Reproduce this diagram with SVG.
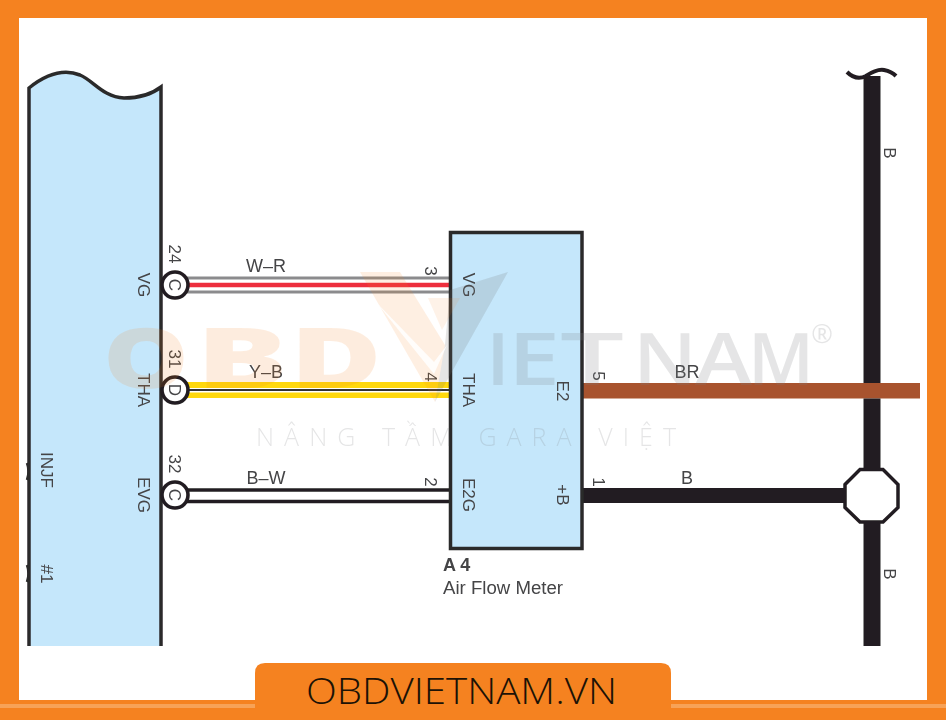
<svg xmlns="http://www.w3.org/2000/svg" width="946" height="720" viewBox="0 0 946 720">
<style>
.box{fill:#c5e7fb;stroke:#2b2a2b;stroke-width:3.5}
.t{font-family:"Liberation Sans",Arial,sans-serif;font-size:17px;fill:#444446}
.h{font-size:18px}
.m{text-anchor:middle}
.conn{fill:#fff;stroke:#231f20;stroke-width:3.6}
.ctext{font-family:"Liberation Sans",Arial,sans-serif;font-size:17px;fill:#444446;text-anchor:middle}
.wm{font-family:"Open Sans","Liberation Sans",sans-serif}
.ob{font-size:84px;font-weight:800;fill:#f58220;opacity:.14}
.gr{font-size:72px;font-weight:600;fill:#808285;opacity:.2}
</style>
<defs><filter id="soft" x="-2%" y="-2%" width="104%" height="104%"><feGaussianBlur stdDeviation="0.6"/></filter></defs>
<rect width="946" height="720" fill="#f58220"/>
<rect x="19" y="18" width="908" height="682" fill="#fff"/>
<rect x="0" y="704" width="946" height="4" fill="#f7a257"/>
<g filter="url(#soft)">
<g id="ecu">
<path d="M29 88C44 76 62 68 80 75C94 81 103 97 124 98C140 98 152 94 161 87V646H29Z" fill="#c5e7fb"/>
<path d="M29 646V88C44 76 62 68 80 75C94 81 103 97 124 98C140 98 152 94 161 87V646" fill="none" stroke="#2b2a2b" stroke-width="3.5"/>
<path d="M27 463Q30 471 27 480M27 565Q30 573 27 582" fill="none" stroke="#2b2a2b" stroke-width="2.500"/>
<text class="t m" transform="translate(138 285) rotate(90)">VG</text>
<text class="t m" transform="translate(138 390) rotate(90)">THA</text>
<text class="t m" transform="translate(138 495) rotate(90)">EVG</text>
<text class="t m" transform="translate(41 470) rotate(90)">INJF</text>
<text class="t m" transform="translate(41 574) rotate(90)">#1</text>
</g>
<g id="connectors">
<line x1="175" y1="278" x2="450" y2="278" stroke="#8b8b8d" stroke-width="3"/>
<line x1="175" y1="292" x2="450" y2="292" stroke="#8b8b8d" stroke-width="3"/>
<line x1="175" y1="285" x2="450" y2="285" stroke="#ed2f3c" stroke-width="4.500"/>
<rect x="175" y="382" width="275" height="16" fill="#ffd808"/>
<rect x="175" y="388" width="275" height="4.500" fill="#fff"/>
<line x1="175" y1="390" x2="450" y2="390" stroke="#333" stroke-width="2"/>
<line x1="175" y1="490" x2="450" y2="490" stroke="#231f20" stroke-width="3.5"/>
<line x1="175" y1="501.500" x2="450" y2="501.500" stroke="#231f20" stroke-width="3.5"/>
<rect x="583" y="383" width="337" height="15.500" fill="#a8532f"/>
<rect x="583" y="488" width="264" height="15" fill="#231f20"/>
<path d="M863.500 76H880.500V383H863.500ZM863.500 398.500H880.500V470H863.500ZM863.500 522H880.500V646H863.500Z" fill="#231f20"/>
<path d="M847 72C853 78 860 79 866 76C872 72 878 69 884 70C889 71 893 73 896 76" fill="none" stroke="#231f20" stroke-width="4"/>
<text class="t h m" x="266" y="272">W–R</text>
<text class="t h m" x="266" y="378">Y–B</text>
<text class="t h m" x="266" y="484">B–W</text>
<text class="t h m" x="687" y="378">BR</text>
<text class="t h m" x="687" y="484">B</text>
<text class="t m" transform="translate(884 153) rotate(90)">B</text>
<text class="t m" transform="translate(884 574) rotate(90)">B</text>
</g>
<g id="conn-c24"><circle class="conn" cx="175" cy="285" r="13"/>
<text class="ctext" transform="translate(169 285) rotate(90)">C</text>
<text class="ctext" transform="translate(169 254) rotate(90)">24</text></g>
<g id="conn-d31"><circle class="conn" cx="175" cy="390" r="13"/>
<text class="ctext" transform="translate(169 390) rotate(90)">D</text>
<text class="ctext" transform="translate(169 359) rotate(90)">31</text></g>
<g id="conn-c32"><circle class="conn" cx="175" cy="495" r="13"/>
<text class="ctext" transform="translate(169 495) rotate(90)">C</text>
<text class="ctext" transform="translate(169 464) rotate(90)">32</text></g>
<g id="air-flow-meter">
<rect class="box" x="450.500" y="232.500" width="131.500" height="316"/>
<text class="t m" transform="translate(463 285) rotate(90)">VG</text>
<text class="t m" transform="translate(463 390) rotate(90)">THA</text>
<text class="t m" transform="translate(463 495) rotate(90)">E2G</text>
<text class="t m" transform="translate(557 391) rotate(90)">E2</text>
<text class="t m" transform="translate(557 495) rotate(90)">+B</text>
<text class="t m" transform="translate(425 271) rotate(90)">3</text>
<text class="t m" transform="translate(425 377) rotate(90)">4</text>
<text class="t m" transform="translate(425 482) rotate(90)">2</text>
<text class="t m" transform="translate(593 376) rotate(90)">5</text>
<text class="t m" transform="translate(593 482) rotate(90)">1</text>
<text class="t" x="443" y="571" font-weight="700" style="font-size:18px">A 4</text>
<text class="t" x="443" y="594" textLength="120" lengthAdjust="spacingAndGlyphs" style="font-size:18px">Air Flow Meter</text>
</g>
<g id="junction"><polygon points="860,469.500 883,469.500 898,484.500 898,507.500 883,522 860,522 845,507.500 845,484.500" fill="#fff" stroke="#231f20" stroke-width="3.500"/></g>
</g>
<g id="watermark">
<text class="wm ob" x="103" y="388" textLength="86" lengthAdjust="spacingAndGlyphs">O</text>
<text class="wm ob" x="196" y="388" textLength="92" lengthAdjust="spacingAndGlyphs">B</text>
<text class="wm ob" x="290" y="388" textLength="92" lengthAdjust="spacingAndGlyphs">D</text>
<path d="M360 272H400L445 345L435 402Z" fill="#f58220" opacity=".13"/>
<path d="M508 272L450 290L445 345L435 402Z" fill="#6d6e71" opacity=".18"/>
<path d="M428 298H460L442 330Z" fill="#f58220" opacity=".1"/>
<path d="M376 302L434 374L447 345L434 362Z" fill="#fff" opacity=".85"/>
<text class="wm gr" x="486" y="385" textLength="24" lengthAdjust="spacingAndGlyphs">I</text>
<text class="wm gr" x="508" y="385" textLength="52" lengthAdjust="spacingAndGlyphs">E</text>
<text class="wm gr" x="560" y="385" textLength="64" lengthAdjust="spacingAndGlyphs">T</text>
<text class="wm gr" x="633" y="385" textLength="64" lengthAdjust="spacingAndGlyphs">N</text>
<text class="wm gr" x="695" y="385" textLength="57" lengthAdjust="spacingAndGlyphs">A</text>
<text class="wm gr" x="748" y="385" textLength="66" lengthAdjust="spacingAndGlyphs">M</text>
<text class="wm" x="822" y="343" font-size="26" fill="#808285" opacity=".2" text-anchor="middle">®</text>
<text class="wm" x="256" y="446" font-size="25" font-weight="300" fill="#808285" opacity=".2" textLength="420" lengthAdjust="spacing">NÂNG TẦM GARA VIỆT</text>
</g>
<g id="footer">
<path d="M255 720V673Q255 663 265 663H661Q671 663 671 673V720Z" fill="#f58220"/>
<text x="306" y="704" font-family="'Open Sans',sans-serif" font-size="36" font-weight="300" fill="#1c1206" textLength="311" lengthAdjust="spacingAndGlyphs">OBDVIETNAM.VN</text>
</g>
</svg>
